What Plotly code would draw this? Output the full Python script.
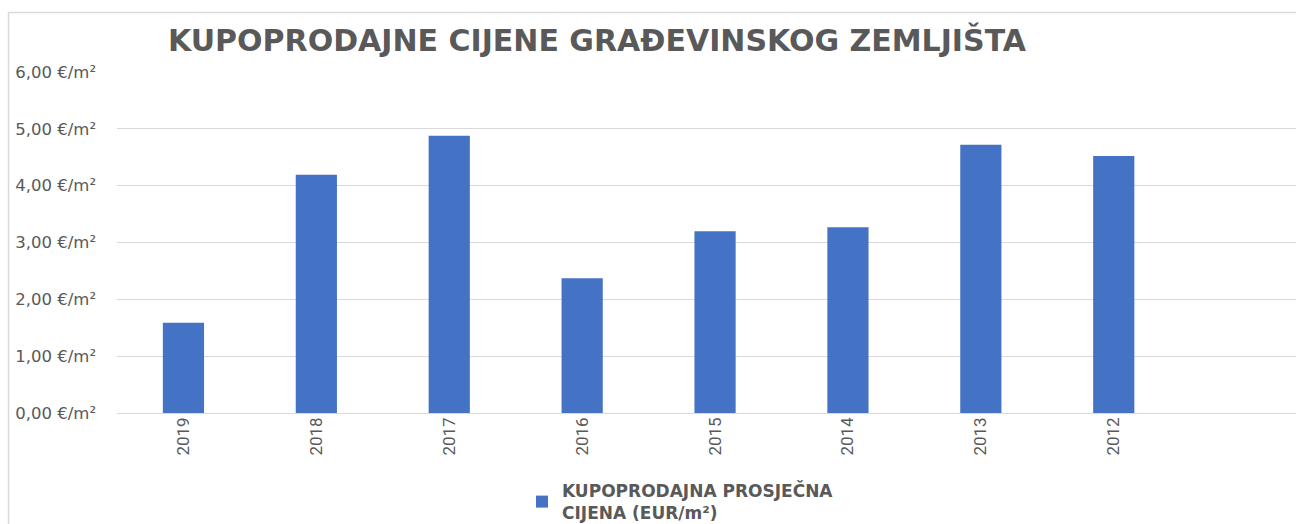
import plotly.graph_objects as go

years = ["2019", "2018", "2017", "2016", "2015", "2014", "2013", "2012"]
prices = [1.59, 4.19, 4.88, 2.37, 3.20, 3.27, 4.72, 4.52]
y_ticks = [0, 1, 2, 3, 4, 5, 6]
y_tick_labels = ["0,00 €/m²", "1,00 €/m²", "2,00 €/m²", "3,00 €/m²", "4,00 €/m²", "5,00 €/m²", "6,00 €/m²"]
series_name = "KUPOPRODAJNA PROSJEČNA<br>CIJENA (EUR/m²)"
title_text = "KUPOPRODAJNE CIJENE GRAĐEVINSKOG ZEMLJIŠTA"

W, H = 1296, 524
L, R, T, B = 117, 0, 72, 111
pw = W - L - R
ph = H - T - B

fig = go.Figure()
fig.add_trace(go.Bar(
    x=years, y=prices, name=series_name,
    marker=dict(color="#4472C4", line=dict(width=0)),
    width=0.31, showlegend=True,
))

grey = "#595959"
fig.update_layout(
    width=W, height=H,
    margin=dict(l=L, r=R, t=T, b=B, autoexpand=False),
    paper_bgcolor="white", plot_bgcolor="white",
    title=dict(text="<b>" + title_text + "</b>", xref="container", yref="container",
               x=597 / W, y=1 - 40 / H, xanchor="center", yanchor="middle",
               font=dict(family="DejaVu Sans", size=30, color=grey)),
    showlegend=True,
    legend=dict(orientation="h", x=(522 - L) / pw, xanchor="left",
                y=(413 - 473) / ph, yanchor="top",
                font=dict(family="DejaVu Sans", size=17, color=grey, weight="bold"),
                itemwidth=30, bgcolor="rgba(0,0,0,0)"),
    xaxis=dict(type="category", range=[-0.5, -0.5 + pw / 132.9],
               tickangle=-90, showgrid=False, showline=False, ticks="",
               tickfont=dict(family="Roboto", size=17, color=grey)),
    yaxis=dict(range=[0, 6], tickvals=y_ticks, ticktext=y_tick_labels,
               showgrid=True, gridcolor="#D9D9D9", gridwidth=1,
               zeroline=True, zerolinecolor="#D9D9D9", zerolinewidth=1,
               showline=False, ticks="", ticklabelstandoff=20,
               tickfont=dict(family="DejaVu Sans", size=16.5, color=grey)),
    bargap=0.69,
)

# chart-area border (visible left and top edges)
fig.add_shape(type="rect", xref="paper", yref="paper",
              x0=(8.5 - L) / pw, x1=1.05, y0=-0.5, y1=1 + (T - 12.5) / ph,
              line=dict(color="#D9D9D9", width=1.5), layer="below")

fig.write_html("out.html", config={"displayModeBar": False},
               post_script="document.body.style.margin='0';document.body.style.overflow='hidden';")
